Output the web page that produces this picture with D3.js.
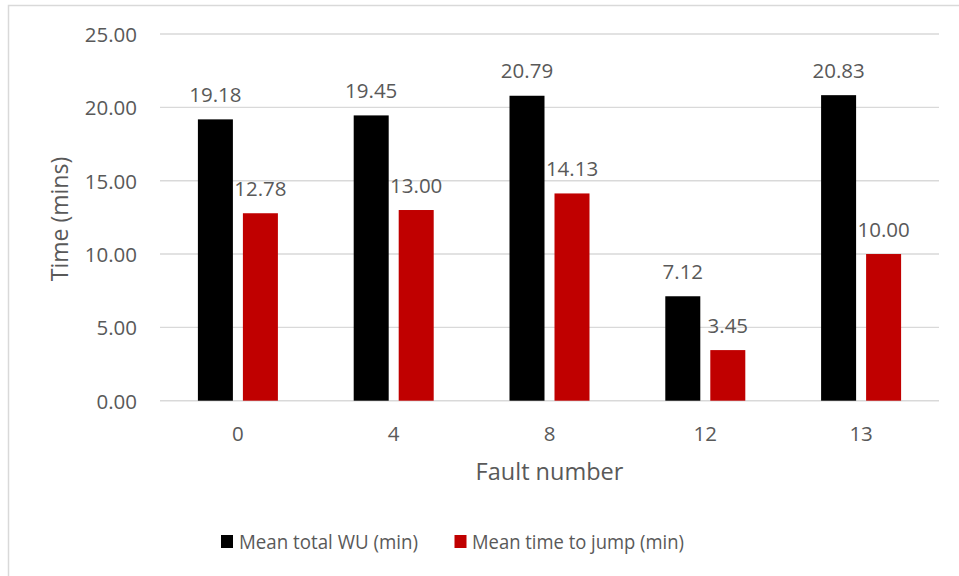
<!DOCTYPE html>
<html>
<head>
<meta charset="utf-8">
<script src="https://cdn.jsdelivr.net/npm/d3@7"></script>
<style>
  html, body { margin: 0; padding: 0; background: #fff; }
  svg { display: block; }
  text { font-family: "Open Sans", sans-serif; fill: #595959; }
</style>
</head>
<body>
<svg id="chart" width="959" height="576"></svg>
<script>
// Fault numbers on the x axis
const categories = ["0", "4", "8", "12", "13"];
// Series names (legend order)
const seriesNames = ["Mean total WU (min)", "Mean time to jump (min)"];
// Values per series, in minutes
const meanTotalWU = [19.18, 19.45, 20.79, 7.12, 20.83];
const meanTimeToJump = [12.78, 13.00, 14.13, 3.45, 10.00];
// Y axis ticks
const yTicks = [0, 5, 10, 15, 20, 25];
const seriesColors = ["#000000", "#C00000"];

const seriesValues = [meanTotalWU, meanTimeToJump];

const svg = d3.select("#chart");

// Outer chart frame
svg.append("rect")
  .attr("x", 8.5).attr("y", 5.5)
  .attr("width", 1000).attr("height", 1000)
  .attr("fill", "none")
  .attr("stroke", "#d9d9d9")
  .attr("stroke-width", 1.5);

const plot = { left: 160, right: 939, top: 34, bottom: 400.7 };

const x = d3.scaleBand()
  .domain(categories)
  .range([plot.left, plot.right])
  .paddingInner(0).paddingOuter(0);

// Bars inside each category group
const groupWidth = x.bandwidth() * 0.5135;
const xs = d3.scaleBand()
  .domain(seriesNames)
  .range([-groupWidth / 2, groupWidth / 2])
  .paddingInner(0.2222).paddingOuter(0);

const y = d3.scaleLinear()
  .domain([0, 25])
  .range([plot.bottom, plot.top]);

// Gridlines
svg.append("g")
  .selectAll("line")
  .data(yTicks)
  .join("line")
  .attr("x1", plot.left).attr("x2", plot.right)
  .attr("y1", d => y(d)).attr("y2", d => y(d))
  .attr("stroke", "#d9d9d9")
  .attr("stroke-width", 1.4);

// Y axis labels
const yAxis = d3.axisLeft(y).tickValues(yTicks).tickFormat(d3.format(".2f")).tickSize(0).tickPadding(23);
const gy = svg.append("g")
  .attr("transform", `translate(${plot.left},0)`)
  .call(yAxis);
gy.select(".domain").remove();
gy.selectAll("text")
  .attr("font-family", "'Open Sans', sans-serif")
  .attr("font-size", 20.5)
  .attr("fill", "#595959")
  .attr("dy", "0.36em");

// X axis labels
const xAxis = d3.axisBottom(x).tickSize(0).tickPadding(0);
const gx = svg.append("g")
  .attr("transform", `translate(0,${plot.bottom})`)
  .call(xAxis);
gx.select(".domain").remove();
gx.selectAll("text")
  .attr("font-family", "'Open Sans', sans-serif")
  .attr("font-size", 20.5)
  .attr("fill", "#595959")
  .attr("dy", null)
  .attr("y", 40);

// Bars
const groups = svg.append("g")
  .selectAll("g")
  .data(categories)
  .join("g")
  .attr("transform", d => `translate(${x(d) + x.bandwidth() / 2},0)`);

groups.each(function (cat, ci) {
  const g = d3.select(this);
  seriesNames.forEach((s, si) => {
    const v = seriesValues[si][ci];
    g.append("rect")
      .attr("x", xs(s))
      .attr("width", xs.bandwidth())
      .attr("y", y(v))
      .attr("height", y(0) - y(v))
      .attr("fill", seriesColors[si]);
    g.append("text")
      .attr("x", xs(s) + xs.bandwidth() / 2)
      .attr("y", y(v) - 17.5)
      .attr("text-anchor", "middle")
      .attr("font-size", 20.5)
      .text(d3.format(".2f")(v));
  });
});

// Axis titles
svg.append("text")
  .attr("transform", `translate(68,219) rotate(-90)`)
  .attr("text-anchor", "middle")
  .attr("font-size", 23)
  .text("Time (mins)");

svg.append("text")
  .attr("x", 549.5).attr("y", 480)
  .attr("text-anchor", "middle")
  .attr("font-size", 23.5)
  .text("Fault number");

// Legend
const legendItems = [
  { name: seriesNames[0], color: seriesColors[0], sx: 221, tx: 239, len: 179 },
  { name: seriesNames[1], color: seriesColors[1], sx: 454.5, tx: 472, len: 212 }
];
const legend = svg.append("g");
legendItems.forEach(it => {
  legend.append("rect")
    .attr("x", it.sx).attr("y", 535)
    .attr("width", 12).attr("height", 13)
    .attr("fill", it.color);
  legend.append("text")
    .attr("x", it.tx).attr("y", 549)
    .attr("font-size", 20.5)
    .attr("textLength", it.len)
    .attr("lengthAdjust", "spacingAndGlyphs")
    .text(it.name);
});
</script>
</body>
</html>
